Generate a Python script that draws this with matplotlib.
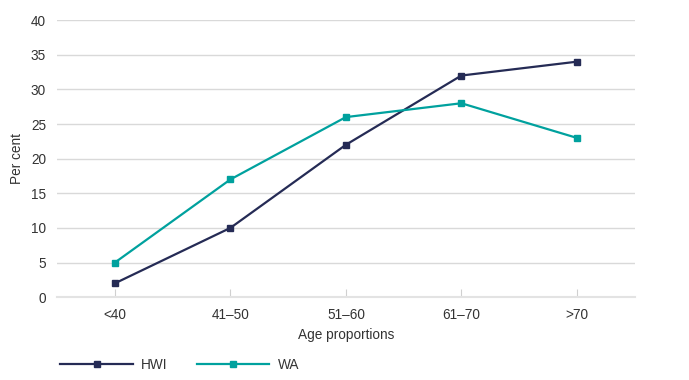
import matplotlib.pyplot as plt
from matplotlib.lines import Line2D

categories = ["<40", "41\u201350", "51\u201360", "61\u201370", ">70"]
hwi = [2, 10, 22, 32, 34]
wa = [5, 17, 26, 28, 23]

NAVY = "#252b55"
TEAL = "#00a19e"
TEXT = "#333333"
FS = 9.8

plt.rcParams["font.family"] = ["Liberation Sans", "DejaVu Sans"]

fig = plt.figure(figsize=(6.89, 3.8), dpi=100)
ax = fig.add_axes([0.083, 0.218, 0.838, 0.729])

x = range(len(categories))
ax.plot(x, hwi, color=NAVY, lw=1.6, marker="s", ms=5, zorder=3)
ax.plot(x, wa, color=TEAL, lw=1.6, marker="s", ms=5, zorder=3)

ax.set_xlim(-0.5, len(categories) - 0.5)
ax.set_ylim(0, 40)
ax.set_yticks(range(0, 41, 5))
ax.set_xticks(list(x))
ax.set_xticklabels(categories)
ax.grid(axis="y", color="#d9d9d9", lw=1)
ax.set_axisbelow(True)
for s in ["top", "right", "left"]:
    ax.spines[s].set_visible(False)
ax.spines["bottom"].set_color("#e3e3e3")
ax.spines["bottom"].set_linewidth(1.5)
ax.tick_params(axis="y", length=0, pad=8, labelsize=FS, labelcolor=TEXT)
ax.tick_params(axis="x", direction="in", length=6, color="#d0d0d0",
               pad=8, labelsize=FS, labelcolor=TEXT)
ax.set_xlabel("Age proportions", fontsize=FS, color=TEXT, labelpad=4)
ax.set_ylabel("Per cent", fontsize=FS, color=TEXT, labelpad=5)

handles = [
    Line2D([], [], color=NAVY, lw=1.6, marker="s", ms=5),
    Line2D([], [], color=TEAL, lw=1.6, marker="s", ms=5),
]
fig.legend(handles, ["HWI", "WA"], loc="center left",
           bbox_to_anchor=(0.07, 0.04), ncol=2, frameon=False,
           handlelength=5.3, handletextpad=0.6, columnspacing=2.2,
           fontsize=FS, labelcolor=TEXT)

fig.savefig("out.png", dpi=100)
